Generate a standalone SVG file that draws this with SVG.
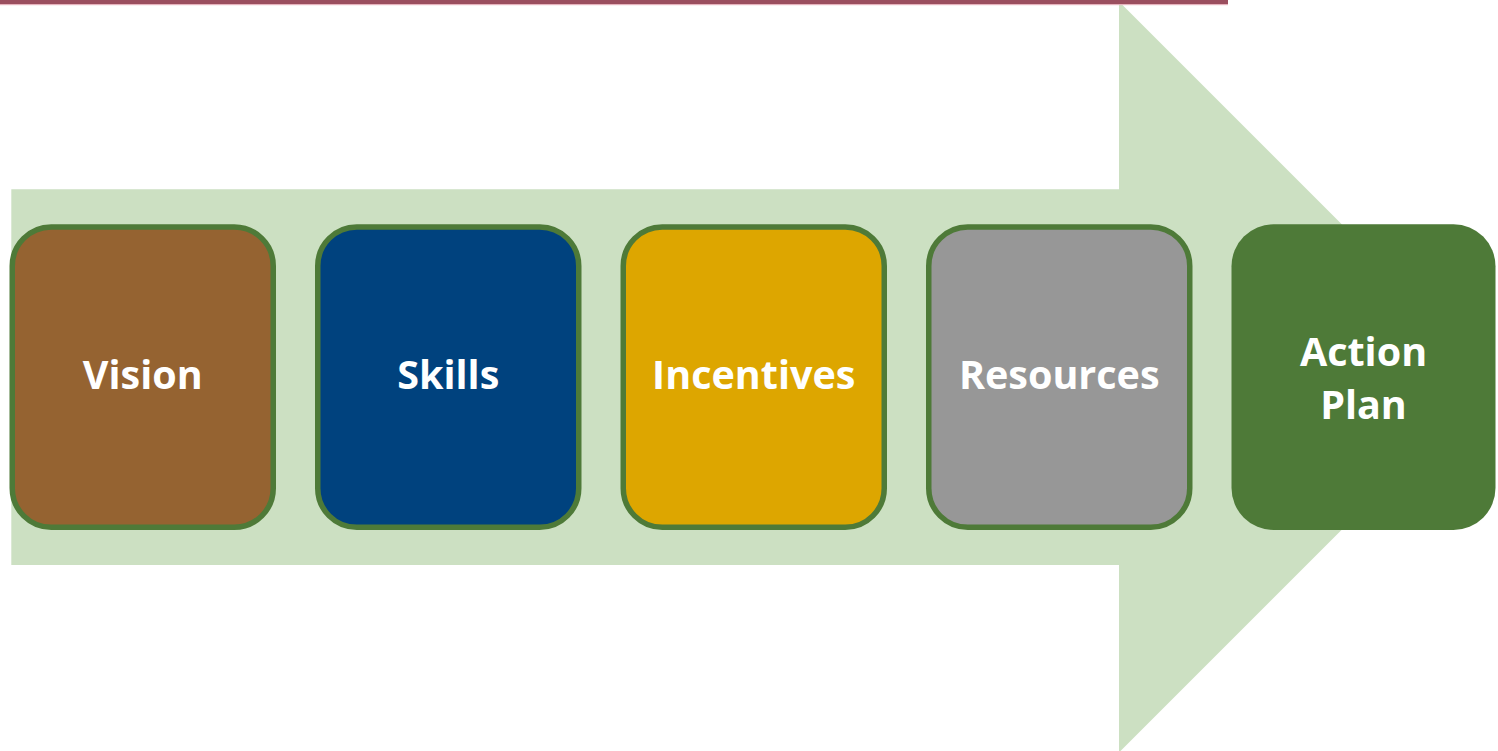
<svg xmlns="http://www.w3.org/2000/svg" width="1498" height="751" viewBox="0 0 1498 751">
  <style>
    .step { stroke: #4e7a38; stroke-width: 5.5; }
    .label { font-family: "Open Sans", "Liberation Sans", sans-serif; font-weight: 700; font-size: 39.5px; fill: #ffffff; text-anchor: middle; }
  </style>
  <rect width="1498" height="751" fill="#ffffff"/>

  <!-- Big background arrow -->
  <g id="flow-arrow">
    <polygon points="11.3,189.3 1119,189.3 1119,1.5 1494.5,377 1119,752.5 1119,565 11.3,565" fill="#cce0c2"/>
  </g>

  <!-- Header rule -->
  <g id="header-rule">
    <rect x="0" y="0" width="1228" height="4" fill="#9b4f5f"/>
    <rect x="0" y="4" width="1228" height="1.2" fill="#e6b3bd"/>
  </g>

  <g id="connectors"></g>

  <g id="vision">
    <rect class="step" x="12.25" y="227" width="261" height="300.3" rx="39" fill="#956331"/>
    <text class="label" x="142.75" y="389">Vision</text>
  </g>
  <g id="skills">
    <rect class="step" x="317.75" y="227" width="261" height="300.3" rx="39" fill="#00427e"/>
    <text class="label" x="448.25" y="389">Skills</text>
  </g>
  <g id="incentives">
    <rect class="step" x="623.25" y="227" width="261" height="300.3" rx="39" fill="#dda600"/>
    <text class="label" x="753.75" y="389">Incentives</text>
  </g>
  <g id="resources">
    <rect class="step" x="928.75" y="227" width="261" height="300.3" rx="39" fill="#979797"/>
    <text class="label" x="1059.25" y="389">Resources</text>
  </g>
  <g id="action-plan">
    <rect x="1231.5" y="224.3" width="264" height="305.7" rx="42" fill="#4e7a38"/>
    <text class="label" x="1363.5" y="365.5">Action</text>
    <text class="label" x="1363.5" y="419">Plan</text>
  </g>
</svg>
